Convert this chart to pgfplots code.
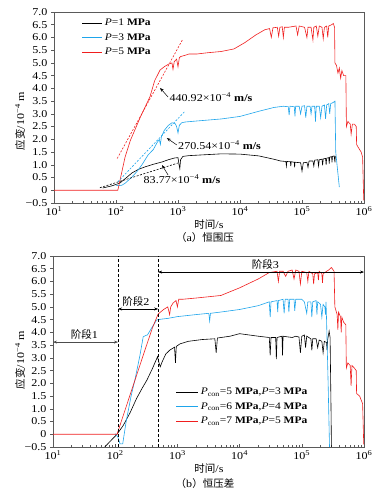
\documentclass[border=0pt]{standalone}
\usepackage{fontspec}
\usepackage{pgfplots}
\pgfplotsset{compat=1.18}
\usetikzlibrary{arrows.meta}
\setmainfont{Liberation Serif}[FakeStretch=1.15]
\newfontfamily\cjk{Noto Sans CJK SC}
\definecolor{cblue}{RGB}{30,165,235}
\definecolor{cred}{RGB}{240,30,30}
\definecolor{axgray}{RGB}{90,90,90}

\pgfplotstableread{
t v
61 0.09
85 0.17
115 0.28
140 0.45
181 0.68
230 0.82
295 0.92
400 1.02
550 1.11
700 1.2
890 1.27
1000 1.28
1040 1.0
1070 0.85
1100 1.2
1200 1.33
1500 1.36
2500 1.39
5000 1.43
10000 1.42
20000 1.35
35000 1.22
45000 1.15
55000 1.13
56000 0.95
57000 1.13
65000 1.12
66000 0.95
67000 1.12
75000 1.1
76000 0.9
77000 1.1
95000 1.08
100000 0.75
105000 1.08
120000 1.1
125000 0.9
130000 1.15
150000 1.15
155000 0.95
160000 1.18
180000 1.2
185000 0.95
190000 1.2
210000 1.22
215000 0.98
220000 1.23
240000 1.25
245000 1.0
250000 1.26
270000 1.28
275000 1.05
280000 1.3
300000 1.32
305000 1.1
310000 1.33
330000 1.35
340000 1.1
345000 1.35
}\blackA

\pgfplotstableread{
t v
100 0.2
110 0.18
125 0.2
141 0.28
181 0.52
220 0.75
262 1.0
330 1.39
400 1.6
457 1.86
500 2.0
520 1.8
540 2.1
600 2.35
700 2.55
800 2.65
900 2.62
950 2.5
1000 2.25
1050 2.55
1150 2.65
1300 2.68
2000 2.72
5000 2.8
10000 2.9
20000 3.1
35000 3.25
50000 3.3
60000 3.28
62000 2.95
64000 3.3
75000 3.28
77000 2.9
79000 3.3
90000 3.3
95000 3.0
100000 3.3
110000 3.32
115000 2.85
120000 3.3
135000 3.3
140000 3.0
145000 3.3
160000 3.3
165000 2.7
170000 3.3
190000 3.3
200000 2.85
210000 3.3
230000 3.35
240000 2.8
250000 3.35
270000 3.4
280000 3.0
290000 3.4
320000 3.45
340000 3.5
350000 1.5
400000 0.12
}\blueA

\pgfplotstableread{
t v
10 0
107 0
140 1.3
170 1.95
250 2.9
353 3.67
420 4.3
513 4.72
600 4.85
700 4.95
800 5.0
830 4.75
870 5.05
950 5.15
1000 4.85
1050 5.2
1100 5.25
1300 5.3
1500 5.35
2000 5.35
3000 5.4
5000 5.45
8000 5.55
12000 5.8
18000 6.1
25000 6.3
30000 6.35
32000 6.0
34000 6.38
40000 6.4
42000 6.05
44000 6.4
48000 6.42
50000 6.0
52000 6.4
60000 6.4
80000 6.45
85000 6.1
90000 6.45
110000 6.4
120000 6.0
125000 6.4
140000 6.4
150000 5.9
155000 6.4
170000 6.45
180000 6.05
190000 6.45
210000 6.4
220000 5.95
230000 6.4
250000 6.45
260000 6.0
270000 6.45
300000 6.5
320000 6.55
335000 6.4
340000 5.0
360000 4.9
380000 4.6
400000 4.8
420000 4.4
440000 4.7
470000 4.5
510000 4.5
520000 2.5
550000 2.7
600000 2.6
620000 2.2
650000 2.6
700000 2.6
750000 2.5
760000 1.8
800000 1.7
900000 1.5
950000 1.3
990000 -0.4
}\redA

\pgfplotstableread{
t v
55 -0.75
68 -0.5
85 -0.25
107 0.0
135 0.35
173 0.84
220 1.4
270 1.8
324 2.13
400 2.6
480 3.05
500 2.85
530 2.65
570 2.85
650 3.15
750 3.3
900 3.42
930 2.8
960 3.45
1100 3.55
1500 3.65
2500 3.72
4000 3.75
4200 3.2
4400 3.78
7000 3.85
10000 3.95
20000 3.85
30000 3.8
31000 3.1
32000 3.8
38000 3.8
39000 2.95
40000 3.8
48000 3.85
49000 3.1
50000 3.85
70000 3.8
80000 3.85
90000 3.82
95000 3.2
100000 3.85
110000 3.9
115000 3.4
120000 3.85
140000 3.75
145000 3.3
150000 3.75
170000 3.75
180000 3.4
190000 3.7
210000 3.65
220000 3.2
230000 3.65
250000 3.6
255000 3.3
260000 3.7
275000 4.05
285000 3.8
295000 1.0
300000 -0.7
}\blackB

\pgfplotstableread{
t v
100 0.02
110 -0.1
120 -0.38
132 -0.38
150 0.5
180 1.5
208 2.15
250 3.1
282 3.83
310 3.88
330 3.9
380 4.15
464 4.49
550 4.52
700 4.55
1000 4.62
2000 4.7
3200 4.75
3300 4.45
3400 4.75
5000 4.8
10000 4.9
20000 5.05
30000 5.2
31000 4.6
32000 5.2
40000 5.25
41000 4.8
42000 5.25
50000 5.3
52000 4.75
54000 5.3
60000 5.3
62000 4.8
64000 5.3
75000 5.3
77000 4.85
80000 5.3
100000 5.3
110000 5.2
120000 4.75
125000 5.2
140000 5.2
145000 4.6
150000 5.2
170000 5.25
175000 4.7
180000 5.2
200000 5.1
210000 4.6
220000 5.1
235000 5.0
240000 4.7
245000 5.2
250000 4.5
265000 2.0
280000 -0.7
}\blueB

\pgfplotstableread{
t v
10 0
107 0
150 1.08
200 2.0
300 3.3
400 4.2
490 4.72
600 4.9
700 5.0
750 4.7
780 5.0
850 5.15
950 5.25
1000 5.0
1050 5.3
1200 5.3
2000 5.35
5000 5.45
10000 5.75
20000 6.1
30000 6.35
40000 6.4
42000 6.0
44000 6.4
50000 6.4
55000 6.2
60000 6.4
70000 6.45
75000 6.1
80000 6.45
90000 6.4
95000 5.9
100000 6.4
120000 6.35
125000 6.0
130000 6.4
150000 6.3
155000 5.9
160000 6.3
180000 6.35
185000 6.05
190000 6.4
210000 6.3
215000 5.95
220000 6.3
250000 6.4
270000 6.45
300000 6.55
330000 6.4
340000 5.0
350000 4.9
370000 4.7
380000 4.1
390000 4.8
420000 4.6
430000 4.0
440000 4.6
470000 4.4
510000 4.3
520000 2.6
550000 2.8
600000 2.7
620000 1.9
640000 2.7
700000 2.6
750000 2.5
760000 1.6
850000 1.5
950000 1.2
990000 -0.4
}\redB

\begin{document}
\begin{tikzpicture}
\path[use as bounding box] (0,0) rectangle (390pt,495pt);

% ---------- (a) ----------
\begin{axis}[at={(54pt,292pt)}, anchor=south west,
  scale only axis, width=310pt, height=191pt,
  xmode=log, xmin=10, xmax=1e6, ymin=-0.5, ymax=7,
  xtick={10,100,1000,10000,100000,1000000},
  xticklabels={10\textsuperscript{1},10\textsuperscript{2},10\textsuperscript{3},10\textsuperscript{4},10\textsuperscript{5},10\textsuperscript{6}},
  ytick={-0.5,0,0.5,1,1.5,2,2.5,3,3.5,4,4.5,5,5.5,6,6.5,7},
  yticklabels={−0.5,0,0.5,1.0,1.5,2.0,2.5,3.0,3.5,4.0,4.5,5.0,5.5,6.0,6.5,7.0},
  xtick align=inside, ytick align=outside, tick pos=left,
  major tick length=3pt, minor tick length=2pt,
  axis line style={axgray, line width=0.7pt},
  every tick/.style={axgray, line width=0.5pt},
  tick label style={font=\fontsize{10.5}{12}\selectfont},
  legend style={draw=none, fill=none, inner sep=0pt, row sep=2.5pt,
    font=\fontsize{10}{12}\selectfont, cells={anchor=west},
    at={(0.09,0.975)}, anchor=north west},
  legend image code/.code={\draw[#1, line width=0.8pt] (0pt,0pt) -- (20pt,0pt);},
  every axis plot/.append style={line width=0.6pt}]
\addplot[black] table[x=t,y=v] {\blackA};
\addlegendentry{\textit{P}=1 \textbf{MPa}}
\addplot[cblue] table[x=t,y=v] {\blueA};
\addlegendentry{\textit{P}=3 \textbf{MPa}}
\addplot[cred] table[x=t,y=v] {\redA};
\addlegendentry{\textit{P}=5 \textbf{MPa}}
\addplot[cred, dash pattern=on 2pt off 1.5pt, forget plot] coordinates {(104.7,1.25) (1175,5.9)};
\addplot[cblue, dash pattern=on 2pt off 1.5pt, forget plot] coordinates {(107,0.33) (1290,3.1)};
\addplot[black, dash pattern=on 2pt off 1.5pt, forget plot] coordinates {(55,0.1) (1000,1.07)};
\draw[-{Stealth[length=4pt,width=3pt]}, line width=0.5pt] (axis cs:692,3.66) -- (axis cs:513,4.02);
\node[anchor=west, inner sep=1pt, font=\fontsize{10.5}{12}\selectfont] at (axis cs:700,3.66) {440.92×10\textsuperscript{−4} \textbf{m/s}};
\draw[-{Stealth[length=4pt,width=3pt]}, line width=0.5pt] (axis cs:955,1.78) -- (axis cs:661,2.05);
\node[anchor=west, inner sep=1pt, font=\fontsize{10.5}{12}\selectfont] at (axis cs:964,1.78) {270.54×10\textsuperscript{−4} \textbf{m/s}};
\draw[-{Stealth[length=4pt,width=3pt]}, line width=0.5pt] (axis cs:692,0.6) -- (axis cs:552,0.99);
\node[inner sep=1pt, font=\fontsize{10.5}{12}\selectfont] at (axis cs:1161,0.44) {83.77×10\textsuperscript{−4} \textbf{m/s}};
\end{axis}

% ---------- (b) ----------
\begin{axis}[at={(53pt,48pt)}, anchor=south west,
  scale only axis, width=311pt, height=191pt,
  xmode=log, xmin=10, xmax=1e6, ymin=-0.5, ymax=7,
  xtick={10,100,1000,10000,100000,1000000},
  xticklabels={10\textsuperscript{1},10\textsuperscript{2},10\textsuperscript{3},10\textsuperscript{4},10\textsuperscript{5},10\textsuperscript{6}},
  ytick={-0.5,0,0.5,1,1.5,2,2.5,3,3.5,4,4.5,5,5.5,6,6.5,7},
  yticklabels={−0.5,0,0.5,1.0,1.5,2.0,2.5,3.0,3.5,4.0,4.5,5.0,5.5,6.0,6.5,7.0},
  xtick align=inside, ytick align=outside, tick pos=left,
  major tick length=3pt, minor tick length=2pt,
  axis line style={axgray, line width=0.7pt},
  every tick/.style={axgray, line width=0.5pt},
  tick label style={font=\fontsize{10.5}{12}\selectfont},
  legend style={draw=none, fill=none, inner sep=0pt, row sep=2.5pt,
    font=\fontsize{10}{12}\selectfont, cells={anchor=west},
    at={(0.395,0.32)}, anchor=north west},
  legend image code/.code={\draw[#1, line width=0.8pt] (0pt,0pt) -- (22pt,0pt);},
  every axis plot/.append style={line width=0.6pt}]
\addplot[black] table[x=t,y=v] {\blackB};
\addlegendentry{\textit{P}\textsubscript{con}=5 \textbf{MPa},\textit{P}=3 \textbf{MPa}}
\addplot[cblue] table[x=t,y=v] {\blueB};
\addlegendentry{\textit{P}\textsubscript{con}=6 \textbf{MPa},\textit{P}=4 \textbf{MPa}}
\addplot[cred] table[x=t,y=v] {\redB};
\addlegendentry{\textit{P}\textsubscript{con}=7 \textbf{MPa},\textit{P}=5 \textbf{MPa}}
\draw[black, dash pattern=on 3pt off 2pt, line width=0.5pt] (axis cs:111,-0.5) -- (axis cs:111,7);
\draw[black, dash pattern=on 3pt off 2pt, line width=0.5pt] (axis cs:490,-0.5) -- (axis cs:490,7);
\draw[{Stealth[length=4pt,width=3pt]}-{Stealth[length=4pt,width=3pt]}, line width=0.5pt, black!70] (axis cs:10,3.62) -- (axis cs:111,3.62);
\node[font=\fontsize{10.5}{12}\selectfont, inner sep=0pt] at (axis cs:32,3.9) {{\cjk 阶段}1};
\draw[{Stealth[length=4pt,width=3pt]}-{Stealth[length=4pt,width=3pt]}, line width=0.5pt] (axis cs:111,4.92) -- (axis cs:490,4.92);
\node[font=\fontsize{10.5}{12}\selectfont, inner sep=0pt] at (axis cs:215,5.2) {{\cjk 阶段}2};
\draw[{Stealth[length=4pt,width=3pt]}-{Stealth[length=4pt,width=3pt]}, line width=0.5pt] (axis cs:490,6.37) -- (axis cs:1e6,6.37);
\node[font=\fontsize{10.5}{12}\selectfont, inner sep=0pt] at (axis cs:26000,6.67) {{\cjk 阶段}3};
\end{axis}

% labels
\node[rotate=90, font=\fontsize{10.5}{12}\selectfont] at (20pt,374pt) {{\cjk 应变}/10\textsuperscript{−4} m};
\node[rotate=90, font=\fontsize{10.5}{12}\selectfont] at (20pt,135pt) {{\cjk 应变}/10\textsuperscript{−4} m};
\node[font=\fontsize{10.5}{12}\selectfont] at (209pt,270pt) {{\cjk 时间}/s};
\node[font=\fontsize{10.5}{12}\selectfont] at (209pt,26pt) {{\cjk 时间}/s};
\node[font=\fontsize{10.5}{12}\selectfont] at (205pt,257pt) {{\cjk （}a{\cjk ）恒围压}};
\node[font=\fontsize{10.5}{12}\selectfont] at (205pt,11pt) {{\cjk （}b{\cjk ）恒压差}};
\end{tikzpicture}
\end{document}
